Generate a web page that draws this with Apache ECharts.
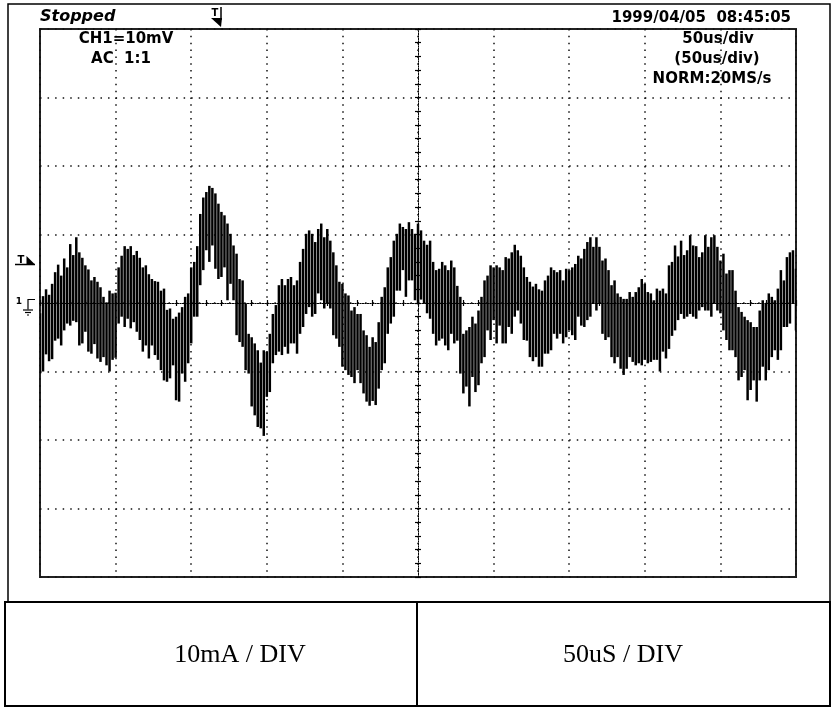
<!DOCTYPE html>
<html>
<head>
<meta charset="utf-8">
<script src="https://cdn.jsdelivr.net/npm/echarts@6/dist/echarts.min.js"></script>
<style>
html,body{margin:0;padding:0;background:#fff;}
#chart{width:833px;height:709px;}
</style>
</head>
<body>
<div id="chart"></div>
<script>
// ---- data (values in mA, 10 mA per division; time in microseconds) ----
const sampleStepUs = 2;          // one min/max bar every 2 us
const timeRangeUs = [0, 500];    // 10 div x 50 us
const currentRangeMa = [-40, 40];// 8 div x 10 mA

// upper end of each sampled bar (25 per division)
const traceHigh = [
  -1.5, 1.0, 2.0, 1.2, 2.8, 4.5, 5.6, 4.0, 6.5, 5.2, 8.6, 7.0, 9.6, 7.4, 6.6, 5.5, 4.9, 3.3, 3.8, 3.1, 2.3, 0.9, 0.1, 1.8, 1.4,
  1.5, 5.2, 6.9, 8.3, 7.9, 8.3, 7.0, 7.6, 6.6, 5.2, 5.5, 4.2, 3.5, 3.2, 3.1, 1.8, 2.1, -1.0, -0.8, -2.3, -2.0, -1.4, -0.6, 0.9, 1.4,
  5.2, 6.0, 8.3, 13.0, 15.4, 16.2, 17.1, 16.8, 16.0, 14.5, 13.3, 12.8, 11.6, 10.1, 8.4, 7.2, 3.5, 3.3, -0.1, -4.5, -5.0, -5.9, -6.9, -8.7, -6.9,
  -7.1, -4.5, -1.6, -0.3, 2.6, 3.5, 2.6, 3.5, 3.8, 2.6, 3.3, 6.0, 7.9, 10.1, 10.6, 10.1, 8.9, 10.8, 11.6, 9.6, 10.8, 9.1, 7.4, 5.5, 3.1,
  2.8, 1.4, 1.1, -1.1, -0.6, -1.6, -1.6, -4.0, -4.7, -6.4, -5.0, -5.7, -2.8, 0.9, 2.3, 5.2, 6.7, 9.1, 10.1, 11.6, 11.1, 10.8, 11.8, 10.8, 10.1,
  11.6, 10.6, 9.1, 8.5, 9.1, 6.0, 4.8, 5.0, 6.0, 5.5, 4.8, 6.2, 5.2, 2.5, 0.9, -4.5, -4.0, -3.5, -2.0, -3.0, -1.1, 0.9, 3.3, 4.0, 5.5,
  5.2, 5.5, 5.2, 4.8, 6.7, 6.5, 7.4, 8.5, 7.7, 6.9, 5.2, 3.8, 3.1, 2.4, 2.8, 2.0, 1.8, 3.3, 4.0, 5.2, 4.8, 4.5, 4.8, 3.3, 5.0,
  4.8, 5.2, 5.7, 6.9, 6.5, 7.9, 8.9, 9.6, 8.2, 9.6, 8.2, 6.2, 6.5, 4.8, 2.6, 3.3, 1.4, 0.9, 0.6, 0.6, 1.6, 0.9, 1.6, 2.3, 3.5,
  2.8, 1.6, 1.4, 0.4, 2.1, 1.8, 2.1, 1.4, 5.5, 6.0, 8.4, 6.8, 9.1, 7.0, 7.7, 9.9, 8.4, 8.3, 6.7, 7.4, 9.9, 8.2, 9.6, 9.9, 8.2,
  6.2, 7.2, 4.3, 4.8, 4.8, 1.8, -0.6, -1.3, -2.0, -2.5, -2.8, -3.5, -3.5, -1.1, 0.4, -0.1, 1.4, 0.9, 0.4, 2.1, 4.8, 3.3, 6.7, 7.4, 7.7,
  5.0
];

// lower end of each sampled bar
const traceLow = [
  -10.3, -10.0, -7.5, -8.5, -8.2, -5.5, -5.2, -6.2, -4.0, -3.0, -3.3, -2.6, -2.8, -6.2, -5.9, -4.2, -7.1, -7.4, -6.0, -8.1, -8.6, -7.9, -9.1, -10.0, -8.3,
  -8.0, -3.0, -2.0, -3.5, -2.3, -3.7, -2.8, -4.2, -5.4, -7.1, -6.2, -8.1, -6.2, -7.6, -8.3, -9.8, -11.3, -11.5, -11.0, -9.1, -14.2, -14.4, -10.3, -11.5, -8.8,
  -5.9, -2.0, -2.0, 2.6, 4.8, 7.7, 6.0, 8.4, 5.0, 3.5, 3.8, 5.2, 0.4, 2.8, 0.4, -4.7, -5.7, -6.4, -9.8, -10.3, -15.1, -16.4, -18.1, -18.3, -19.4,
  -13.7, -13.0, -8.8, -7.6, -7.1, -7.6, -6.4, -7.4, -5.9, -5.9, -7.4, -4.5, -3.5, -1.6, -0.6, -2.0, -1.6, 1.4, 0.4, -0.8, -0.1, -0.8, -4.7, -5.2, -6.4,
  -9.3, -9.8, -10.5, -10.8, -11.7, -9.8, -11.7, -13.2, -14.4, -15.0, -14.3, -14.9, -12.5, -9.8, -8.8, -4.5, -3.0, -2.0, 1.8, 1.8, 4.8, 0.9, 3.3, 3.3, 0.4,
  -0.1, 0.5, -0.1, -1.5, -2.3, -4.5, -6.2, -5.5, -5.2, -6.2, -6.9, -4.5, -5.9, -5.5, -10.3, -13.2, -12.2, -15.1, -10.8, -13.0, -12.0, -8.8, -7.9, -4.0, -5.4,
  -2.5, -5.9, -3.3, -5.9, -5.9, -3.5, -4.5, -2.0, -1.1, -3.0, -5.4, -5.5, -7.9, -8.5, -7.9, -9.3, -9.3, -7.4, -7.4, -6.9, -4.5, -5.2, -4.5, -5.9, -5.0,
  -4.0, -4.7, -5.4, -2.0, -3.3, -3.5, -2.5, -2.0, -0.1, -1.1, -0.1, -4.5, -5.4, -5.0, -7.9, -8.8, -7.9, -9.6, -10.5, -9.6, -7.9, -8.6, -9.1, -8.8, -9.1,
  -8.3, -8.8, -8.6, -8.3, -8.3, -10.0, -7.1, -8.1, -6.7, -4.8, -4.0, -2.5, -1.6, -2.3, -2.0, -1.6, -2.0, -2.3, -1.1, -0.6, -1.1, -1.1, -2.0, -0.1, -1.1,
  -1.5, -4.0, -5.4, -6.9, -6.9, -7.9, -11.3, -10.8, -9.8, -14.2, -12.7, -11.3, -14.4, -11.3, -9.3, -11.3, -9.8, -7.9, -6.9, -8.3, -6.9, -3.5, -3.5, -3.0, -0.1,
  -4.0
];

// screen annotations
const statusText = 'Stopped';
const dateText = '1999/04/05  08:45:05';
const channelTexts = ['CH1=10mV', 'AC  1:1'];
const timebaseTexts = ['50us/div', '(50us/div)', 'NORM:20MS/s'];
const tableTexts = ['10mA / DIV', '50uS / DIV'];

// ---- chart ----
const traceData = traceHigh.map((h, i) => [i * sampleStepUs, traceLow[i], h]);

const chart = echarts.init(document.getElementById('chart'), null, {renderer: 'canvas'});

const scopeFont = 'bold 15px "DejaVu Sans"';
const dotGrid = '#111';

function centerXAxis(inside) {
  return {
    type: 'value', min: timeRangeUs[0], max: timeRangeUs[1], interval: 50,
    position: 'bottom', offset: -274,
    axisLine: {show: true, lineStyle: {color: '#000', width: 1, type: [1, 1.5]}},
    axisTick: {show: true, inside: inside, length: 3, lineStyle: {color: '#000', width: 1.2}},
    minorTick: {show: true, splitNumber: 5, length: 3, lineStyle: {color: '#000', width: 1.2}},
    axisLabel: {show: false}, splitLine: {show: false}
  };
}
function centerYAxis(inside) {
  return {
    type: 'value', min: currentRangeMa[0], max: currentRangeMa[1], interval: 10,
    position: 'left', offset: -378,
    axisLine: {show: true, lineStyle: {color: '#000', width: 1, type: [1, 1.5]}},
    axisTick: {show: true, inside: inside, length: 3, lineStyle: {color: '#000', width: 1.2}},
    minorTick: {show: true, splitNumber: 5, length: 3, lineStyle: {color: '#000', width: 1.2}},
    axisLabel: {show: false}, splitLine: {show: false}
  };
}

const option = {
  backgroundColor: '#fff',
  animation: false,
  grid: {left: 40, top: 29, width: 756, height: 548, show: true, borderColor: '#222', borderWidth: 2, backgroundColor: 'transparent'},
  xAxis: [
    {
      type: 'value', min: timeRangeUs[0], max: timeRangeUs[1], interval: 50,
      axisLine: {show: false}, axisTick: {show: false}, axisLabel: {show: false},
      splitLine: {show: true, lineStyle: {color: dotGrid, width: 1.5, type: [1.5, 5.35]}}
    },
    centerXAxis(true),
    centerXAxis(false)
  ],
  yAxis: [
    {
      type: 'value', min: currentRangeMa[0], max: currentRangeMa[1], interval: 10,
      axisLine: {show: false}, axisTick: {show: false}, axisLabel: {show: false},
      splitLine: {show: true, lineStyle: {color: dotGrid, width: 1.5, type: [1.5, 6.06]}}
    },
    centerYAxis(true),
    centerYAxis(false)
  ],
  series: [{
    type: 'custom',
    xAxisIndex: 0, yAxisIndex: 0,
    clip: true, silent: true,
    data: traceData,
    encode: {x: 0, y: [1, 2]},
    renderItem: function (params, api) {
      const t = api.value(0);
      const top = api.coord([t, api.value(2)]);
      const bot = api.coord([t, api.value(1)]);
      return {
        type: 'rect',
        shape: {x: top[0] - 1.25, y: top[1], width: 2.5, height: Math.max(1, bot[1] - top[1])},
        style: {fill: '#000'}
      };
    }
  }],
  graphic: [
    // outer screen frame
    {type: 'rect', z: 10, shape: {x: 8, y: 4, width: 822, height: 598}, style: {fill: null, stroke: '#000', lineWidth: 1.5}},
    // table below
    {type: 'rect', z: 10, shape: {x: 5, y: 602, width: 825, height: 104}, style: {fill: null, stroke: '#000', lineWidth: 2}},
    {type: 'line', z: 10, shape: {x1: 417, y1: 602, x2: 417, y2: 706}, style: {stroke: '#000', lineWidth: 2}},
    {type: 'text', z: 10, style: {text: tableTexts[0], x: 240, y: 655, align: 'center', verticalAlign: 'middle', font: '26px "Liberation Serif"', fill: '#000'}},
    {type: 'text', z: 10, style: {text: tableTexts[1], x: 623, y: 655, align: 'center', verticalAlign: 'middle', font: '26px "Liberation Serif"', fill: '#000'}},
    // header texts
    {type: 'text', z: 10, style: {text: statusText, x: 40, y: 17, align: 'left', verticalAlign: 'middle', font: 'italic bold 16px "DejaVu Sans"', fill: '#000'}},
    {type: 'text', z: 10, style: {text: dateText, x: 791, y: 18, align: 'right', verticalAlign: 'middle', font: scopeFont, fill: '#000'}},
    {type: 'text', z: 10, style: {text: channelTexts[0], x: 126, y: 39, align: 'center', verticalAlign: 'middle', font: scopeFont, fill: '#000'}},
    {type: 'text', z: 10, style: {text: channelTexts[1], x: 121, y: 59, align: 'center', verticalAlign: 'middle', font: scopeFont, fill: '#000'}},
    {type: 'text', z: 10, style: {text: timebaseTexts[0], x: 718, y: 39, align: 'center', verticalAlign: 'middle', font: scopeFont, fill: '#000'}},
    {type: 'text', z: 10, style: {text: timebaseTexts[1], x: 717, y: 59, align: 'center', verticalAlign: 'middle', font: scopeFont, fill: '#000'}},
    {type: 'text', z: 10, style: {text: timebaseTexts[2], x: 712, y: 79, align: 'center', verticalAlign: 'middle', font: scopeFont, fill: '#000'}},
    // trigger position marker (top)
    {type: 'text', z: 10, style: {text: 'T', x: 215, y: 13, align: 'center', verticalAlign: 'middle', font: 'bold 10px "DejaVu Sans"', fill: '#000'}},
    {type: 'line', z: 10, shape: {x1: 221, y1: 7, x2: 221, y2: 20}, style: {stroke: '#000', lineWidth: 1.5}},
    {type: 'polygon', z: 10, shape: {points: [[211, 18], [222, 18], [221, 27]]}, style: {fill: '#000'}},
    // trigger level marker (left)
    {type: 'text', z: 10, style: {text: 'T', x: 21, y: 260, align: 'center', verticalAlign: 'middle', font: 'bold 10px "DejaVu Sans"', fill: '#000'}},
    {type: 'line', z: 10, shape: {x1: 15, y1: 264.5, x2: 35, y2: 264.5}, style: {stroke: '#000', lineWidth: 1.5}},
    {type: 'polygon', z: 10, shape: {points: [[26.5, 256], [35, 264.5], [26.5, 264.5]]}, style: {fill: '#000'}},
    // channel ground marker (left)
    {type: 'text', z: 10, style: {text: '1', x: 19, y: 302, align: 'center', verticalAlign: 'middle', font: 'bold 9px "DejaVu Sans"', fill: '#000'}},
    {type: 'polyline', z: 10, shape: {points: [[35, 299.5], [28, 299.5], [28, 309.5]]}, style: {stroke: '#000', lineWidth: 1.2, fill: null}},
    {type: 'line', z: 10, shape: {x1: 23, y1: 310, x2: 33, y2: 310}, style: {stroke: '#000', lineWidth: 1.2}},
    {type: 'line', z: 10, shape: {x1: 25, y1: 312.5, x2: 31, y2: 312.5}, style: {stroke: '#000', lineWidth: 1.2}},
    {type: 'line', z: 10, shape: {x1: 27, y1: 315, x2: 29, y2: 315}, style: {stroke: '#000', lineWidth: 1.2}}
  ]
};

chart.setOption(option);
</script>
</body>
</html>
